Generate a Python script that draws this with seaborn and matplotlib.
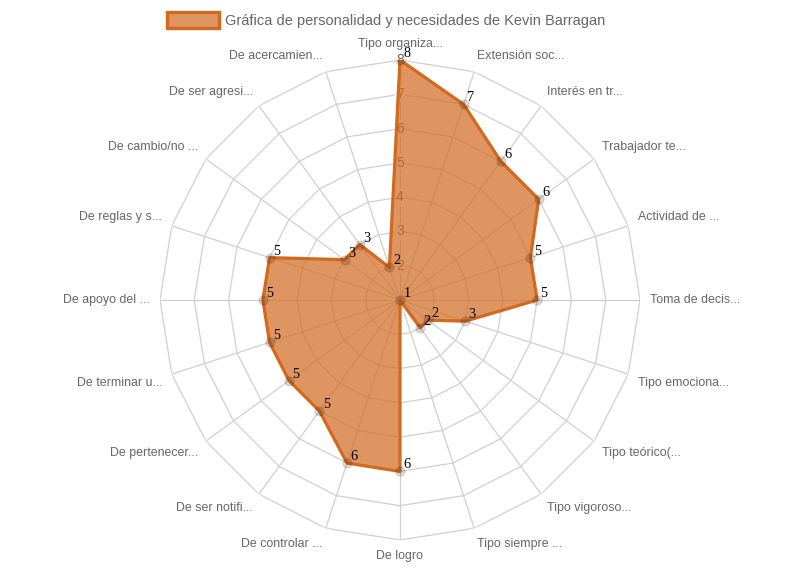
import numpy as np
import matplotlib
matplotlib.use('Agg')
import matplotlib.pyplot as plt
import seaborn as sns
from matplotlib.patches import Patch

# ============================================
# DATA
# ============================================
categorias = [
    'Tipo organiza...', 'Extensión soc...', 'Interés en tr...', 'Trabajador te...',
    'Actividad de ...', 'Toma de decis...', 'Tipo emociona...', 'Tipo teórico(...',
    'Tipo vigoroso...', 'Tipo siempre ...', 'De logro', 'De controlar ...',
    'De ser notifi...', 'De pertenecer...', 'De terminar u...', 'De apoyo del ...',
    'De reglas y s...', 'De cambio/no ...', 'De ser agresi...', 'De acercamien...',
]
valores = [8, 7, 6, 6, 5, 5, 3, 2, 2, 1, 6, 6, 5, 5, 5, 5, 5, 3, 3, 2]
escala = [1, 2, 3, 4, 5, 6, 7, 8]
serie = 'Gráfica de personalidad y necesidades de Kevin Barragan'

line_color = '#d2691e'
fill_color = (210/255, 105/255, 30/255, 0.7)
grid_color = '#d0d0d0'
text_color = '#666666'

sns.set_style('white')
plt.rcParams['font.family'] = ['Liberation Sans', 'DejaVu Sans']

n = len(categorias)
angles = np.arange(n) * 2 * np.pi / n
closed = np.append(angles, angles[0])

fig = plt.figure(figsize=(8, 5.66), dpi=100)
ax = fig.add_axes([0.2, 266/566 - 240/566, 0.6, 480/566], projection='polar')
ax.set_theta_zero_location('N')
ax.set_theta_direction(-1)
ax.set_ylim(escala[0], escala[-1])
ax.grid(False)
ax.set_xticks([])
ax.set_yticks([])
ax.spines['polar'].set_visible(False)
ax.set_facecolor('none')

# polygon grid rings + spokes
for lvl in escala[1:]:
    ax.plot(closed, [lvl] * (n + 1), color=grid_color, lw=0.9, zorder=1)
ax.vlines(angles, escala[0], escala[-1], color=grid_color, lw=0.9, zorder=1)

# tick labels (drawn under the fill)
for lvl in escala[1:]:
    ax.text(0, lvl, str(lvl), ha='center', va='center', fontsize=10,
            color=text_color, zorder=2,
            bbox=dict(boxstyle='square,pad=0.1', fc=(1, 1, 1, 0.75), ec='none'))

# dataset
vals = np.append(valores, valores[0])
ax.fill(closed, vals, color=fill_color, zorder=3, lw=0)
ax.plot(closed, vals, color=line_color, lw=2.3, zorder=4)
sns.scatterplot(x=angles, y=valores, ax=ax, s=45, color=(0, 0, 0, 0.15),
                edgecolor=(0, 0, 0, 0.1), linewidth=0.8, zorder=5, legend=False)

# value labels
for a, v in zip(angles, valores):
    ax.annotate(str(v), (a, v), xytext=(2.5, 0), textcoords='offset points',
                ha='left', va='bottom', fontsize=10.3, family='Liberation Serif',
                color='black', zorder=6)

# category labels around the chart
r_lab = escala[0] + 250 / 240 * (escala[-1] - escala[0])
for a, lab in zip(angles, categorias):
    deg = round(np.degrees(a), 6)
    if deg == 0 or deg == 180:
        ha = 'center'
    elif deg < 180:
        ha = 'left'
    else:
        ha = 'right'
    if deg == 90 or deg == 270:
        va = 'center'
    elif deg > 270 or deg < 90:
        va = 'bottom'
    else:
        va = 'top'
    ax.text(a, r_lab, lab, ha=ha, va=va, fontsize=8.9, color=text_color)

# legend
handle = Patch(facecolor=fill_color, edgecolor=line_color, linewidth=2.4)
fig.legend([handle], [serie], loc='center', bbox_to_anchor=(0.483, 1 - 20/566),
           frameon=False, fontsize=10.5, handlelength=3.5, handleheight=1.25,
           handletextpad=0.45, labelcolor=text_color)

plt.savefig('out.png', dpi=100)
